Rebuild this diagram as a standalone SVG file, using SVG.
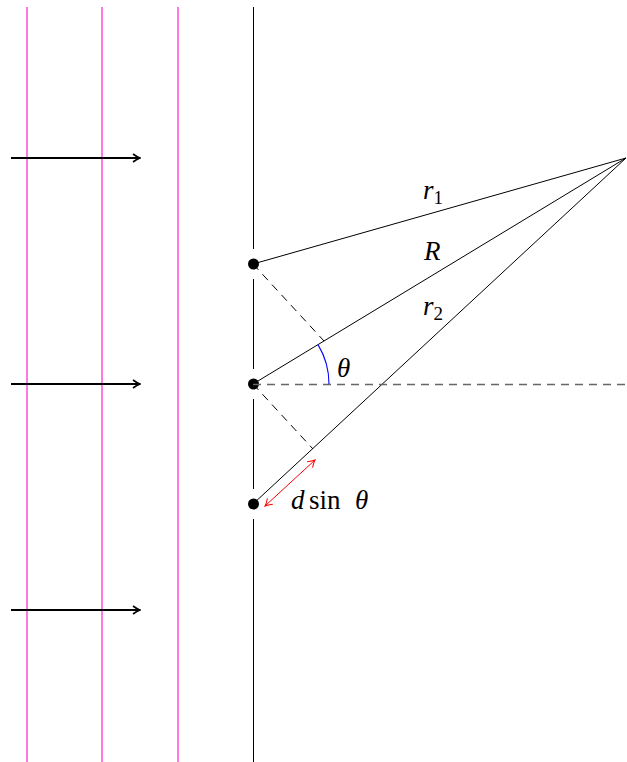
<svg xmlns="http://www.w3.org/2000/svg" width="627" height="762" viewBox="0 0 627 762">
<style>
.wave{stroke:#ff1fc8;stroke-width:1.2;fill:none}
.ln{stroke:#000;stroke-width:1;fill:none}
.dash{stroke:#000;stroke-width:1;stroke-dasharray:8,6;fill:none}
.gdash{stroke:#666;stroke-width:1.4;stroke-dasharray:8,6;fill:none}
.arr{stroke:#000;stroke-width:1.8;fill:none}
</style>
<defs>
<marker id="ah" viewBox="0 0 10 10" refX="9" refY="5" markerWidth="10" markerHeight="10" markerUnits="userSpaceOnUse" orient="auto">
<path d="M2,1 Q6,4 9,5 Q6,6 2,9" stroke="#000" stroke-width="1.6" fill="none"/>
</marker>
<marker id="rh" viewBox="0 0 10 10" refX="9" refY="5" markerWidth="10" markerHeight="10" markerUnits="userSpaceOnUse" orient="auto-start-reverse">
<path d="M2,1 Q6,4 9,5 Q6,6 2,9" stroke="#ff0000" stroke-width="1" fill="none"/>
</marker>
</defs>
<g id="wavefronts">
<line class="wave" x1="27" y1="7" x2="27" y2="762"/>
<line class="wave" x1="102" y1="7" x2="102" y2="762"/>
<line class="wave" x1="178" y1="7" x2="178" y2="762"/>
</g>
<g id="barrier">
<line class="ln" x1="253.5" y1="7" x2="253.5" y2="249"/>
<line class="ln" x1="253.5" y1="279" x2="253.5" y2="369"/>
<line class="ln" x1="253.5" y1="399" x2="253.5" y2="489"/>
<line class="ln" x1="253.5" y1="519" x2="253.5" y2="762"/>
</g>
<g id="slit1"><circle cx="253.5" cy="264" r="5.5" fill="#000"/></g>
<g id="slit2"><circle cx="253.5" cy="384" r="5.5" fill="#000"/></g>
<g id="slit3"><circle cx="253.5" cy="504" r="5.5" fill="#000"/></g>
<g id="connectors">
<line class="arr" x1="11" y1="158" x2="140" y2="158" marker-end="url(#ah)"/>
<line class="arr" x1="11" y1="384" x2="140" y2="384" marker-end="url(#ah)"/>
<line class="arr" x1="11" y1="610" x2="140" y2="610" marker-end="url(#ah)"/>
<line class="ln" x1="253" y1="264" x2="626" y2="158"/>
<line class="ln" x1="253" y1="384" x2="626" y2="158"/>
<line class="ln" x1="253" y1="504" x2="626" y2="158"/>
<line class="dash" x1="253" y1="264" x2="324" y2="341"/>
<line class="dash" x1="253" y1="384" x2="313" y2="449"/>
<line class="gdash" x1="253" y1="384.5" x2="627" y2="384.5"/>
<path d="M329,384 A76,76 0 0 0 318,344.6" stroke="#0000ff" stroke-width="1.1" fill="none"/>
<line x1="265" y1="506" x2="315" y2="460" stroke="#ff0000" stroke-width="1" marker-start="url(#rh)" marker-end="url(#rh)"/>
</g>
<g id="labels" font-family="Liberation Serif, serif" font-size="27" fill="#000">
<text font-style="italic" x="423" y="199">r<tspan font-style="normal" font-size="19" dy="5">1</tspan></text>
<text font-style="italic" x="424" y="260">R</text>
<text font-style="italic" x="423" y="315">r<tspan font-style="normal" font-size="19" dy="5">2</tspan></text>
<text font-style="italic" x="337" y="377">θ</text>
<text y="509"><tspan font-style="italic" x="291">d</tspan><tspan x="309">sin</tspan><tspan font-style="italic" x="355">θ</tspan></text>
</g>
</svg>
